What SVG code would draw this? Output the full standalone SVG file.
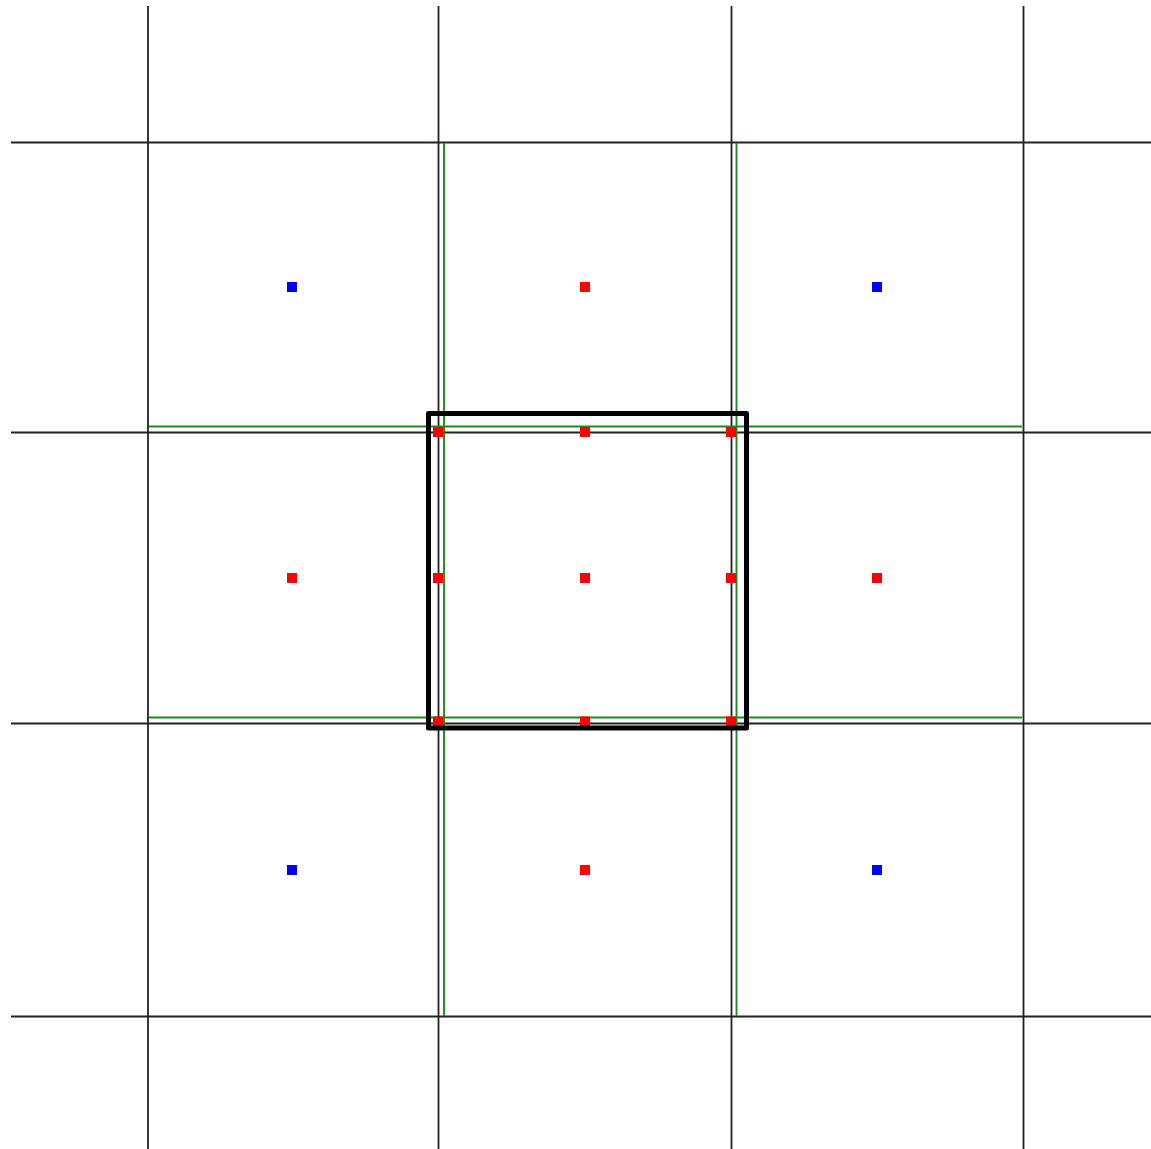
<svg xmlns="http://www.w3.org/2000/svg" width="1151" height="1149" viewBox="0 0 1151 1149">
<style>
.grid{stroke:#222;stroke-width:1.8;fill:none}
.green{stroke:#1f8a1f;stroke-width:1.9;fill:none}
.red{fill:#ff0000}
.blue{fill:#0000ff}
</style>
<rect width="1151" height="1149" fill="#fff"/>
<g id="connectors">
<g id="grid">
<line class="grid" x1="148" y1="6" x2="148" y2="1149"/>
<line class="grid" x1="438.5" y1="6" x2="438.5" y2="1149"/>
<line class="grid" x1="731.5" y1="6" x2="731.5" y2="1149"/>
<line class="grid" x1="1023.5" y1="6" x2="1023.5" y2="1149"/>
<line class="grid" x1="11" y1="142.5" x2="1151" y2="142.5"/>
<line class="grid" x1="11" y1="432.5" x2="1151" y2="432.5"/>
<line class="grid" x1="11" y1="723.5" x2="1151" y2="723.5"/>
<line class="grid" x1="11" y1="1016.5" x2="1151" y2="1016.5"/>
</g>
<g id="green-lines">
<line class="green" x1="444" y1="143" x2="444" y2="1016"/>
<line class="green" x1="736.5" y1="143" x2="736.5" y2="1016"/>
<line class="green" x1="149" y1="426.5" x2="1022" y2="426.5"/>
<line class="green" x1="149" y1="717.5" x2="1022" y2="717.5"/>
</g>
</g>
<g id="dots">
<rect id="b1" class="blue" x="287" y="282" width="10" height="10"/>
<rect id="r1" class="red" x="580" y="282" width="10" height="10"/>
<rect id="b2" class="blue" x="872" y="282" width="10" height="10"/>
<rect id="r2" class="red" x="287" y="573" width="10" height="10"/>
<rect id="r3" class="red" x="580" y="573" width="10" height="10"/>
<rect id="r4" class="red" x="872" y="573" width="10" height="10"/>
<rect id="b3" class="blue" x="287" y="865" width="10" height="10"/>
<rect id="r5" class="red" x="580" y="865" width="10" height="10"/>
<rect id="b4" class="blue" x="872" y="865" width="10" height="10"/>
<rect id="r6" class="red" x="433" y="427" width="10" height="10"/>
<rect id="r7" class="red" x="580" y="427" width="10" height="10"/>
<rect id="r8" class="red" x="726" y="427" width="10" height="10"/>
<rect id="r9" class="red" x="433" y="573" width="10" height="10"/>
<rect id="r10" class="red" x="726" y="573" width="10" height="10"/>
<rect id="r11" class="red" x="433" y="716.5" width="10" height="10"/>
<rect id="r12" class="red" x="580" y="716.5" width="10" height="10"/>
<rect id="r13" class="red" x="726" y="716.5" width="10" height="10"/>
</g>
<g id="frame">
<rect x="428.5" y="413.5" width="318" height="314.5" fill="none" stroke="#000" stroke-width="5" stroke-linejoin="round"/>
</g>
</svg>
